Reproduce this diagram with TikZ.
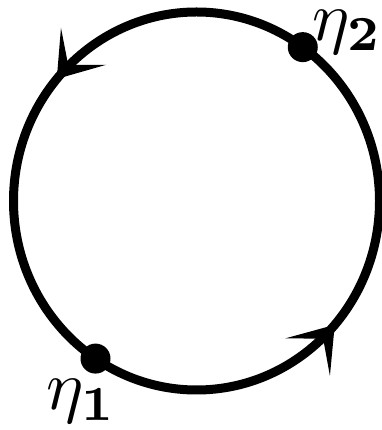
\documentclass[tikz,border=0pt]{standalone}
\usepackage{amsmath}
\usetikzlibrary{arrows.meta,decorations.markings,calc}

\begin{document}
\begin{tikzpicture}[
  x=1pt, y=1pt,
  loopline/.style={line width=9pt},
  flowtip/.tip={Stealth[length=42pt, width=58pt, inset=24pt]},
  flowarrows/.style={postaction={decorate}, decoration={markings,
      mark=at position 0.387 with {\arrow{flowtip}},
      mark=at position 0.885 with {\arrow{flowtip}}}},
  vertex/.style={circle, fill, inner sep=0pt, minimum size=30pt},
  lbl/.style={inner sep=0pt, scale=7}
]
\useasboundingbox (0,0) rectangle (381,430);

\coordinate (o) at (196.5,229);
\draw[loopline, flowarrows] (o) ellipse [x radius=183, y radius=189];

% insertion points on the loop
\node[vertex] (p1) at ($(o)+(236.5:183pt and 189pt)$) {};
\node[vertex] (p2) at ($(o)+(54.5:183pt and 189pt)$) {};

\node[lbl] (l1) at ($(p1)+(-14,-43)$) {$\eta_{\mathbf{1}}$};
\node[lbl] (l2) at ($(p2)+(45,15)$) {$\eta_{\mathbf{2}}$};
\end{tikzpicture}
\end{document}
